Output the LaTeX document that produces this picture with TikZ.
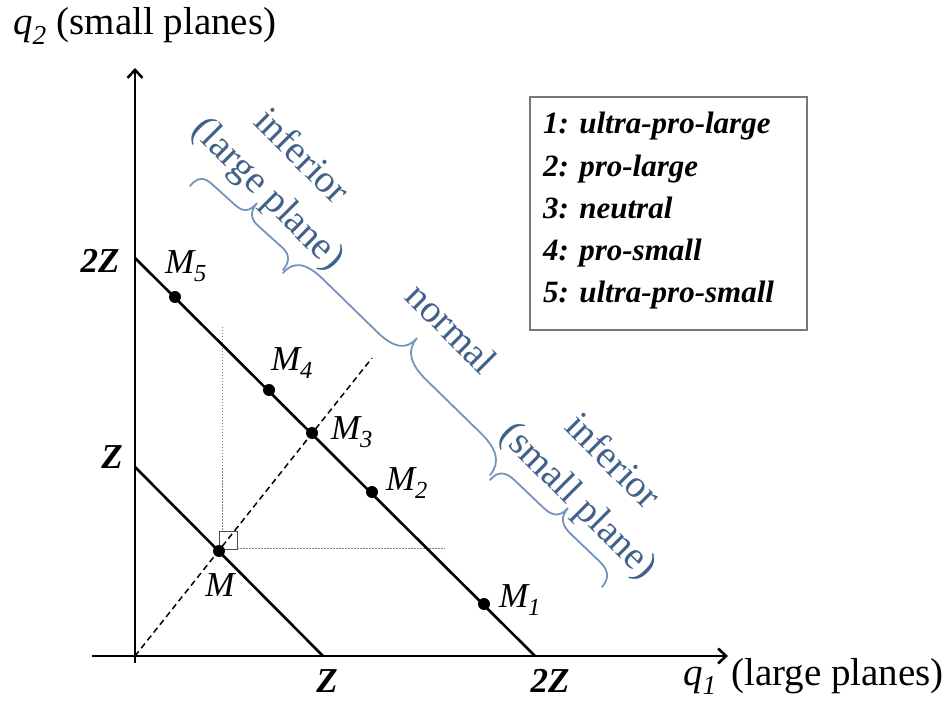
\documentclass[tikz,border=0pt]{standalone}
\usepackage{fontspec}
\setmainfont{Liberation Serif}
\usetikzlibrary{arrows.meta,calc}
\definecolor{bluetxt}{RGB}{66,97,138}
\definecolor{bracecol}{RGB}{115,148,188}
\definecolor{boxgray}{RGB}{120,120,120}
\newcommand\wavybrace[3]{%
  \coordinate (bm) at ($(#1)!0.5!(#3)$);
  \coordinate (bd) at ($(#2)-(bm)$);
  \draw[bracestyle] (#1)
    .. controls ($(#1)+0.35*(bd)$) and ($(#1)!0.04!(#3)+0.5*(bd)$) .. ($(#1)!0.12!(#3)+0.5*(bd)$)
    -- ($(#1)!0.38!(#3)+0.5*(bd)$)
    .. controls ($(#1)!0.46!(#3)+0.5*(bd)$) and ($(#1)!0.5!(#3)+0.65*(bd)$) .. (#2)
    .. controls ($(#1)!0.5!(#3)+0.65*(bd)$) and ($(#1)!0.54!(#3)+0.5*(bd)$) .. ($(#1)!0.62!(#3)+0.5*(bd)$)
    -- ($(#1)!0.88!(#3)+0.5*(bd)$)
    .. controls ($(#1)!0.96!(#3)+0.5*(bd)$) and ($(#3)+0.35*(bd)$) .. (#3);
}
\begin{document}
\begin{tikzpicture}[x=1pt,y=-1pt,
  lbl/.style={font=\fontsize{39}{46}\selectfont, inner sep=0pt},
  axlbl/.style={font=\fontsize{35}{42}\selectfont\bfseries\itshape, inner sep=0pt},
  mlbl/.style={font=\fontsize{35}{42}\selectfont\itshape, inner sep=0pt},
  legitem/.style={font=\fontsize{31}{37}\selectfont\bfseries\itshape, inner sep=0pt, anchor=base west},
  bluetext/.style={font=\fontsize{39}{47}\selectfont, text=bluetxt, rotate=-45, inner sep=0pt},
  bracestyle/.style={line width=1.8pt, line cap=round},
  axisline/.style={line width=2.6pt, -{Straight Barb[length=8pt,width=15pt]}},
  budget/.style={line width=2.6pt},
  mdot/.style={circle, fill=black, inner sep=0pt, minimum size=12pt},
  dashedline/.style={line width=1.5pt, dash pattern=on 6pt off 4pt},
  guide/.style={draw=gray, line width=0.9pt, dash pattern=on 1.5pt off 1.5pt},
  legendbox/.style={draw=boxgray, line width=1.5pt, minimum width=277pt, minimum height=233pt, inner sep=0pt}]
\useasboundingbox (0,0) rectangle (951,708);

% coordinates
\coordinate (O) at (135,656);
\coordinate (ytop) at (135,68);
\coordinate (ybot) at (135,663);
\coordinate (xleft) at (92,656);
\coordinate (xright) at (728,656);
\coordinate (A2) at (135,258);
\coordinate (B2) at (535,656);
\coordinate (A1) at (135,467);
\coordinate (B1) at (323,656);
\coordinate (dend) at (372,358);
\coordinate (vtop) at (222,327);
\coordinate (vbot) at (222,531);
\coordinate (hleft) at (237,548);
\coordinate (hright) at (445,548);

% guides
\draw[guide] (vtop) -- (vbot);
\draw[guide] (hleft) -- (hright);
\draw[draw=black!70, line width=0.9pt] (219,531) rectangle (237,549);
\draw[dashedline] (O) -- (dend);

% axes
\draw[axisline] (ybot) -- (ytop);
\draw[axisline] (xleft) -- (xright);

% budget lines
\draw[budget] (A2) -- (B2);
\draw[budget] (A1) -- (B1);

% points
\node[mdot] (m5) at (175,297) {};
\node[mdot] (m4) at (269,390) {};
\node[mdot] (m3) at (312,433) {};
\node[mdot] (m2) at (372,492) {};
\node[mdot] (m1) at (484,604) {};
\node[mdot] (m) at (219,551) {};

% point labels
\node[mlbl] (lm5) at (186,266) {M\textsubscript{5}};
\node[mlbl] (lm4) at (292,363) {M\textsubscript{4}};
\node[mlbl] (lm3) at (352,432) {M\textsubscript{3}};
\node[mlbl] (lm2) at (407,483) {M\textsubscript{2}};
\node[mlbl] (lm1) at (520,600) {M\textsubscript{1}};
\node[mlbl] (lm) at (220,585) {M};

% axis labels
\node[axlbl] (y2z) at (100,261) {2Z};
\node[axlbl] (yz) at (112,457) {Z};
\node[axlbl] (xz) at (327,681) {Z};
\node[axlbl] (x2z) at (550,681) {2Z};
\node[lbl, anchor=base west] (q2) at (13,35) {\textit{q}\textsubscript{\textit{2}} (small planes)};
\node[lbl, anchor=base west] (q1) at (683,685) {\textit{q}\textsubscript{\textit{1}}};
\node[lbl, anchor=base west] (q1t) at (731,685) {(large planes)};

% legend
\node[legendbox] (legend) at (668.5,213.5) {};
\node[legitem] (leg1) at (543,134) {1: ultra-pro-large};
\node[legitem] (leg2) at (543,177) {2: pro-large};
\node[legitem] (leg3) at (543,219) {3: neutral};
\node[legitem] (leg4) at (543,261) {4: pro-small};
\node[legitem] (leg5) at (543,303) {5: ultra-pro-small};

% braces
\coordinate (b1a) at (190,186);
\coordinate (b1t) at (257,203);
\coordinate (b1b) at (283,270);
\coordinate (b2a) at (283,273);
\coordinate (b2t) at (417,338);
\coordinate (b2b) at (490,475);
\coordinate (b3a) at (490,480);
\coordinate (b3t) at (568,508);
\coordinate (b3b) at (602,587);
\begin{scope}[draw=bracecol]
\wavybrace{b1a}{b1t}{b1b}
\wavybrace{b2a}{b2t}{b2b}
\wavybrace{b3a}{b3t}{b3b}
\end{scope}

% blue texts
\node[bluetext] (inf1) at (303,155) {inferior};
\node[bluetext] (lp) at (267,195) {(large plane)};
\node[bluetext] (norm) at (452,328) {normal};
\node[bluetext] (inf2) at (614,460) {inferior};
\node[bluetext] (sp) at (577,502) {(small plane)};
\end{tikzpicture}
\end{document}
